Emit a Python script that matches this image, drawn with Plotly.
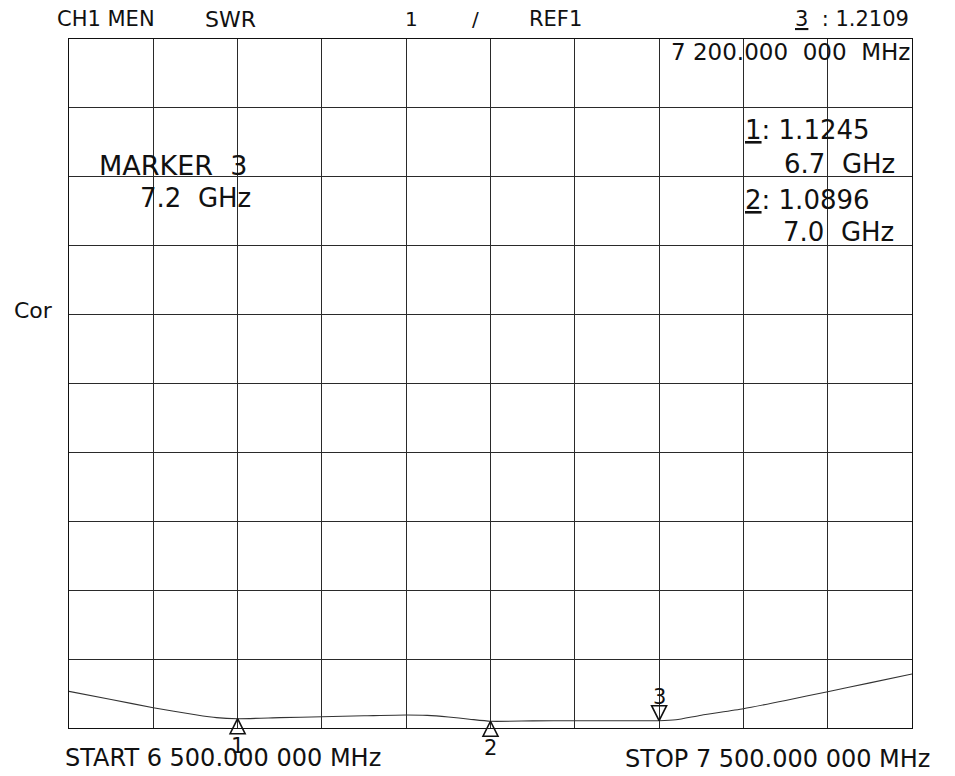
import plotly.graph_objects as go

# ---------------- data ----------------
freq_ghz = [6.50, 6.55, 6.60, 6.65, 6.675, 6.70, 6.75, 6.80, 6.85, 6.90, 6.925,
            6.95, 6.975, 7.00, 7.05, 7.10, 7.15, 7.20, 7.22, 7.25, 7.30, 7.35,
            7.40, 7.45, 7.50]
swr = [1.531, 1.413, 1.295, 1.193, 1.150, 1.135, 1.150, 1.164, 1.177, 1.189, 1.183,
       1.160, 1.128, 1.098, 1.103, 1.106, 1.106, 1.106, 1.120, 1.186, 1.280, 1.400,
       1.527, 1.655, 1.784]

marker_ids = ["1", "2", "3"]
marker_freq = [6.7, 7.0, 7.2]
marker_swr = [1.135, 1.098, 1.106]
marker_dir = ["up", "up", "down"]

x_range = [6.5, 7.5]
y_range = [1.0, 11.0]
x_dtick = 0.1
y_dtick = 1.0

# ---------------- layout geometry ----------------
PAGE = 8                      # browser body margin
W, H = 955 - PAGE, 776 - PAGE
PLOT_X0, PLOT_X1 = 69, 912    # target screen pixels of plot box
PLOT_Y0, PLOT_Y1 = 39, 728
L = PLOT_X0 - PAGE
T = PLOT_Y0 - PAGE
R = W - (PLOT_X1 - PAGE)
B = H - (PLOT_Y1 - PAGE)
PW = PLOT_X1 - PLOT_X0
PH = PLOT_Y1 - PLOT_Y0
FONT = "DejaVu Sans"
INK = "#111111"

def px(x):
    return (x - PLOT_X0) / PW

def py(y):
    return (PLOT_Y1 - y) / PH

fig = go.Figure()
fig.add_trace(go.Scatter(x=freq_ghz, y=swr, mode="lines",
                         line=dict(color="#333333", width=1.1, shape="spline", smoothing=0.6),
                         hoverinfo="skip", showlegend=False))

for mid, f, v, d in zip(marker_ids, marker_freq, marker_swr, marker_dir):
    if d == "up":
        sym, shift = "arrow-up-open", -27
    else:
        sym, shift = "arrow-down-open", 24
    fig.add_trace(go.Scatter(x=[f], y=[v], mode="markers", cliponaxis=False,
                             marker=dict(symbol=sym, size=15, color=INK,
                                         line=dict(color=INK, width=1.6)),
                             hoverinfo="skip", showlegend=False))
    fig.add_annotation(x=f, y=v, xref="x", yref="y", text=mid, showarrow=False,
                       yshift=shift, xanchor="center", yanchor="middle",
                       font=dict(family=FONT, size=21, color=INK))

def txt(text, x, y, size, anchor="left"):
    fig.add_annotation(x=px(x), y=py(y), xref="paper", yref="paper", text=text,
                       showarrow=False, xanchor=anchor, yanchor="middle",
                       font=dict(family=FONT, size=size, color=INK))

NB = "\u00a0"
# header
txt("CH1 MEN", 55, 19, 21)
txt("SWR", 203, 19, 22)
txt("1", 411, 19, 20, "center")
txt("/", 475, 19, 20, "center")
txt("REF1", 527, 19, 21)
txt("<u>3</u> " + NB + ": 1.2109", 911, 19, 21, "right")
txt("7 200.000 " + NB + "000 " + NB + "MHz", 912, 52, 23, "right")
# marker readouts
txt("<u>1</u>: 1.1245", 743, 130, 26)
txt("6.7 " + NB + "GHz", 897, 164, 26, "right")
txt("<u>2</u>: 1.0896", 743, 200, 26)
txt("7.0 " + NB + "GHz", 896, 232, 26, "right")
txt("MARKER " + NB + "3", 97, 165, 27)
txt("7.2 " + NB + "GHz", 138, 198, 26)
txt("Cor", 12, 310, 22)
# footer
txt("START 6 500.000 000 MHz", 63, 758, 24)
txt("STOP 7 500.000 000 MHz", 932, 759, 24, "right")

axis_common = dict(showgrid=True, gridcolor="#2a2a2a", gridwidth=1,
                   showline=True, linecolor="#111111", linewidth=1.2, mirror=True,
                   zeroline=False, ticks="", showticklabels=False, fixedrange=True)
fig.update_xaxes(range=x_range, dtick=x_dtick, tick0=x_range[0], **axis_common)
fig.update_yaxes(range=y_range, dtick=y_dtick, tick0=y_range[0], **axis_common)

fig.update_layout(width=W, height=H, margin=dict(l=L, r=R, t=T, b=B),
                  paper_bgcolor="white", plot_bgcolor="white",
                  font=dict(family=FONT, color=INK), showlegend=False)

fig.write_html("out.html")
